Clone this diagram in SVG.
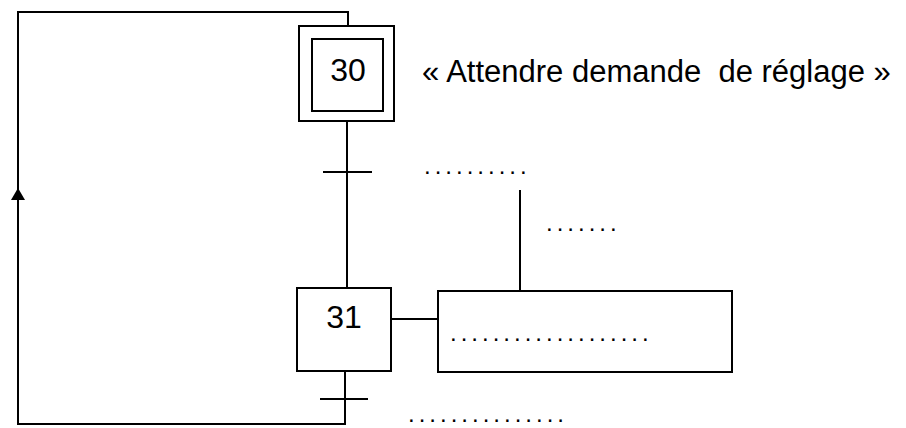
<svg xmlns="http://www.w3.org/2000/svg" width="906" height="428" viewBox="0 0 906 428">
<style>
.ln{fill:none;stroke:#000;stroke-width:2}
.bx{fill:#fff;stroke:#000;stroke-width:2}
.t{font-family:"Liberation Sans",Arial,sans-serif;font-size:32px;fill:#000}
.lbl{font-family:"Liberation Sans",Arial,sans-serif;font-size:31px;fill:#000;white-space:pre}
.dots{font-family:"Liberation Sans",Arial,sans-serif;font-size:24px;fill:#000;letter-spacing:4px}
</style>
<rect width="906" height="428" fill="#fff"/>
<g id="connectors">
<path class="ln" d="M345,371 V424 H18 V12 H348 V26"/>
<path d="M11,200 L18,188 L25,200 Z" fill="#000"/>
<path class="ln" d="M347,121 V288"/>
<path class="ln" d="M323,172 H372"/>
<path class="ln" d="M320,399 H368"/>
<path class="ln" d="M391,319 H438"/>
<path class="ln" d="M520,190 V291"/>
</g>
<g id="step30">
<rect class="bx" x="299" y="26" width="95" height="95"/>
<rect class="bx" x="312" y="39" width="71" height="72"/>
<text class="t" x="348" y="81" text-anchor="middle">30</text>
</g>
<g id="label30">
<text class="lbl" x="422" y="82" xml:space="preserve">« Attendre demande  de réglage »</text>
</g>
<g id="transition1">
<text class="dots" x="424" y="174">..........</text>
<text class="dots" x="546" y="231">.......</text>
</g>
<g id="step31">
<rect class="bx" x="297" y="288" width="94" height="83"/>
<text class="t" x="344" y="328" text-anchor="middle">31</text>
</g>
<g id="action31">
<rect class="bx" x="438" y="291" width="294" height="81"/>
<text class="dots" x="450" y="341">...................</text>
</g>
<g id="transition2">
<text class="dots" x="408" y="422">...............</text>
</g>
</svg>
